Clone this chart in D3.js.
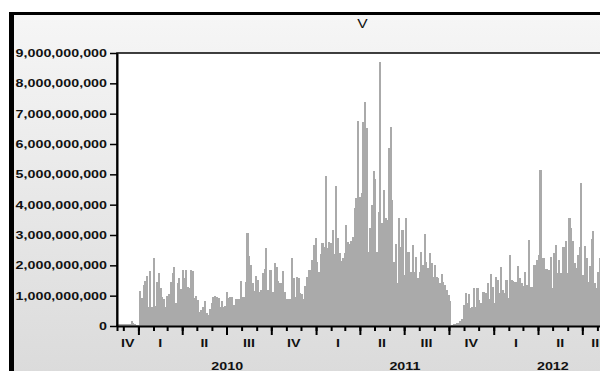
<!DOCTYPE html>
<html>
<head>
<meta charset="utf-8">
<script src="https://cdn.jsdelivr.net/npm/d3@7/dist/d3.min.js"></script>
<style>
  html, body { margin: 0; padding: 0; background: #fff; overflow: hidden; }
  svg { display: block; }
</style>
</head>
<body>
<div id="chart"></div>
<script>
// series title and sampling of the bars (one value per half week)
const seriesName = 'V';
const firstDay = new Date(2009, 10, 18);
const stepHours = 84;

// volume, in billions
const volumeBn = [
  // late 2009
  0.07, 0.07, 0.06, 0.07, 0.07, 0.08, 0.07, 0.07, 0.17, 0.09, 0.08, 0.04, 0.04,
  // 2010 Q1 - Q2
  1.16, 0.91, 1.35, 1.5, 1.65, 0.64, 1.81, 0.64, 2.23, 0.66, 1.46, 1.74, 1.24, 0.97, 0.88,
  0.64, 1.0, 1.05, 1.46, 1.76, 1.96, 0.75, 1.41, 1.57, 1.21, 1.85, 1.57, 1.85, 1.27, 1.24,
  1.85, 1.8, 0.93, 0.99, 0.86, 0.47, 0.53, 0.64, 0.82, 0.42, 0.36, 0.55, 0.75, 0.97, 1.0,
  // 2010 Q2 - Q4
  0.97, 0.91, 0.62, 0.84, 0.64, 0.66, 1.13, 0.91, 0.97, 0.97, 0.69, 0.88, 0.88, 0.88, 1.48,
  0.97, 0.97, 1.46, 3.08, 2.31, 2.01, 1.41, 1.16, 1.65, 1.52, 1.13, 1.19, 1.74, 1.87, 2.56,
  1.19, 1.85, 1.85, 1.13, 2.07, 1.96, 1.49, 1.41, 1.41, 1.82, 1.13, 0.88, 0.88, 0.88, 2.23,
  1.57, 0.97, 1.63, 1.57, 1.08, 1.05, 0.88, 1.32, 1.6, 1.85, 1.85, 2.18, 2.67,
  // 2011 Q1 - Q3
  2.89, 2.12, 1.79, 2.36, 2.73, 2.62, 4.96, 2.56, 2.78, 2.73, 3.16, 2.36, 4.62, 2.91, 2.4,
  2.14, 2.23, 2.4, 3.33, 2.76, 2.69, 2.8, 2.95, 3.9, 4.23, 6.76, 4.26, 4.37, 6.74, 7.4,
  6.52, 2.45, 3.22, 3.99, 5.11, 4.85, 2.45, 3.77, 8.71, 3.38, 4.48, 3.55, 3.49, 5.88, 6.57,
  4.15, 2.12, 2.69, 1.43, 3.57, 2.62, 3.16, 1.68, 3.57, 2.43, 2.45, 1.79,
  // 2011 Q3 - Q4
  2.67, 1.79, 2.26, 1.57, 1.79, 2.45, 2.01, 3.03, 2.12, 1.9, 2.42, 2.07, 1.63, 2.01, 1.63,
  1.57, 1.41, 1.71, 1.46, 1.35, 1.19, 1.02, 0.84, 0.04, 0.07, 0.07, 0.09, 0.11, 0.16, 0.22,
  0.69, 1.08, 0.75, 1.05, 0.58, 0.64, 1.24, 0.64, 1.24, 0.86, 0.75, 1.13, 1.13, 1.08, 1.43,
  0.89, 1.71, 1.3, 0.75, 1.63, 1.52, 1.08, 1.96, 1.19, 1.08, 1.52, 0.91, 2.34,
  // 2012
  1.52, 1.49, 1.46, 1.46, 1.98, 1.57, 1.41, 1.33, 1.77, 1.35, 2.84, 1.3, 1.3, 2.01, 2.01,
  2.18, 2.34, 5.14, 2.23, 2.23, 1.87, 1.87, 1.85, 2.29, 1.24, 2.4, 2.67, 1.76, 2.18, 1.76,
  2.62, 2.59, 2.8, 1.74, 3.55, 3.22, 2.81, 2.09, 1.9, 2.34, 2.59, 4.73, 1.68, 2.64, 2.23,
  1.46, 1.98, 2.86, 3.14, 1.41, 1.24, 1.79, 2.23, 1.74
];

// axis labels
const yTicks = [0, 1e9, 2e9, 3e9, 4e9, 5e9, 6e9, 7e9, 8e9, 9e9];
const quarterNames = ['I', 'II', 'III', 'IV'];
const years = [2010, 2011, 2012];

const width = 600, height = 371;
const plotLeft = 117, plotRight = 612, plotTop = 53, plotBottom = 326;
const stretch = 1.3; // the labels in the picture are drawn wide

const svg = d3.select('#chart').append('svg').attr('width', width).attr('height', height);

const defs = svg.append('defs');
const grad = defs.append('linearGradient').attr('id', 'bg').attr('x1', 0).attr('y1', 0).attr('x2', 0).attr('y2', 1);
grad.append('stop').attr('offset', '0%').attr('stop-color', '#f6f6f6');
grad.append('stop').attr('offset', '100%').attr('stop-color', '#d8d8d8');
defs.append('clipPath').attr('id', 'plot-clip')
  .append('rect')
  .attr('x', plotLeft).attr('y', plotTop)
  .attr('width', plotRight - plotLeft).attr('height', plotBottom - plotTop);

// outer frame
svg.append('rect').attr('x', 10).attr('y', 12).attr('width', 700).attr('height', 400).style('fill', 'url(#bg)');
svg.append('rect').attr('x', 9).attr('y', 12).attr('width', 5).attr('height', 400).style('fill', '#000');
svg.append('rect').attr('x', 9).attr('y', 12).attr('width', 700).attr('height', 3).style('fill', '#000');

svg.append('text')
  .attr('transform', `translate(${(plotLeft + plotRight) / 2 - 2},28) scale(${stretch},1)`)
  .attr('text-anchor', 'middle')
  .style('font-family', '"Liberation Sans", Arial, sans-serif')
  .style('font-size', '12px')
  .style('fill', '#111')
  .text(seriesName);

// plot area
svg.append('rect')
  .attr('x', plotLeft).attr('y', plotTop)
  .attr('width', plotRight - plotLeft).attr('height', plotBottom - plotTop)
  .style('fill', '#fff')
  .style('stroke', '#000')
  .style('stroke-width', 1.5);

const x = d3.scaleTime()
  .domain([new Date(2009, 10, 18), new Date(2012, 7, 31)])
  .range([plotLeft, plotRight]);

const y = d3.scaleLinear().domain([0, 9e9]).range([plotBottom, plotTop]);

const bars = volumeBn.map((v, i) => ({
  start: d3.timeHour.offset(firstDay, i * stepHours),
  end: d3.timeHour.offset(firstDay, (i + 1) * stepHours),
  value: v * 1e9
}));

// bars overlap a little so no light seams show between them
svg.append('g')
  .attr('clip-path', 'url(#plot-clip)')
  .attr('shape-rendering', 'crispEdges')
  .selectAll('rect')
  .data(bars)
  .enter()
  .append('rect')
  .attr('x', d => x(d.start))
  .attr('width', d => x(d.end) - x(d.start) + 0.4)
  .attr('y', d => y(d.value))
  .attr('height', d => plotBottom - y(d.value))
  .style('fill', '#aaaaaa');

const labelFont = sel => sel
  .style('font-family', '"Liberation Sans", Arial, sans-serif')
  .style('font-weight', 'bold')
  .style('font-size', '11px')
  .style('fill', '#111');

// y axis
const yAxis = svg.append('g')
  .attr('transform', `translate(${plotLeft},0)`)
  .call(d3.axisLeft(y).tickValues(yTicks).tickFormat(d3.format(',')).tickSize(7).tickSizeOuter(0));
yAxis.select('.domain').style('stroke', '#000').style('stroke-width', 2);
yAxis.selectAll('.tick line').style('stroke', '#000').style('stroke-width', 1.5);
yAxis.selectAll('.tick text')
  .attr('x', -10 / stretch)
  .attr('transform', `scale(${stretch},1)`)
  .call(labelFont);

// x axis: month ticks, longer ticks at quarter starts
const months = d3.timeMonth.range(x.domain()[0], x.domain()[1]);
const quarterStarts = months.filter(d => d.getMonth() % 3 === 0);

const xMinor = svg.append('g')
  .attr('transform', `translate(0,${plotBottom})`)
  .call(d3.axisBottom(x).tickValues(months).tickSize(5).tickFormat(''));
xMinor.select('.domain').style('stroke', '#000').style('stroke-width', 2);
xMinor.selectAll('.tick line').style('stroke', '#000').style('stroke-width', 2);

const xMajor = svg.append('g')
  .attr('transform', `translate(0,${plotBottom})`)
  .call(d3.axisBottom(x).tickValues(quarterStarts).tickSize(9).tickFormat(''));
xMajor.select('.domain').remove();
xMajor.selectAll('.tick line').style('stroke', '#000').style('stroke-width', 2);

// quarter labels, centred on the visible part of each quarter
const quarters = d3.timeMonth.every(3).range(new Date(2009, 9, 1), new Date(2012, 9, 1));
svg.append('g')
  .selectAll('text')
  .data(quarters)
  .enter()
  .append('text')
  .attr('transform', d => {
    const a = Math.max(x(d), plotLeft);
    const b = Math.min(x(d3.timeMonth.offset(d, 3)), plotRight);
    return `translate(${(a + b) / 2},347) scale(${stretch},1)`;
  })
  .attr('text-anchor', 'middle')
  .call(labelFont)
  .text(d => quarterNames[Math.floor(d.getMonth() / 3)]);

svg.append('g')
  .selectAll('text')
  .data(years)
  .enter()
  .append('text')
  .attr('transform', d => {
    const a = Math.max(x(new Date(d, 0, 1)), plotLeft);
    const b = Math.min(x(new Date(d + 1, 0, 1)), plotRight);
    return `translate(${(a + b) / 2},370) scale(${stretch},1)`;
  })
  .attr('text-anchor', 'middle')
  .call(labelFont)
  .text(d => d);
</script>
</body>
</html>
